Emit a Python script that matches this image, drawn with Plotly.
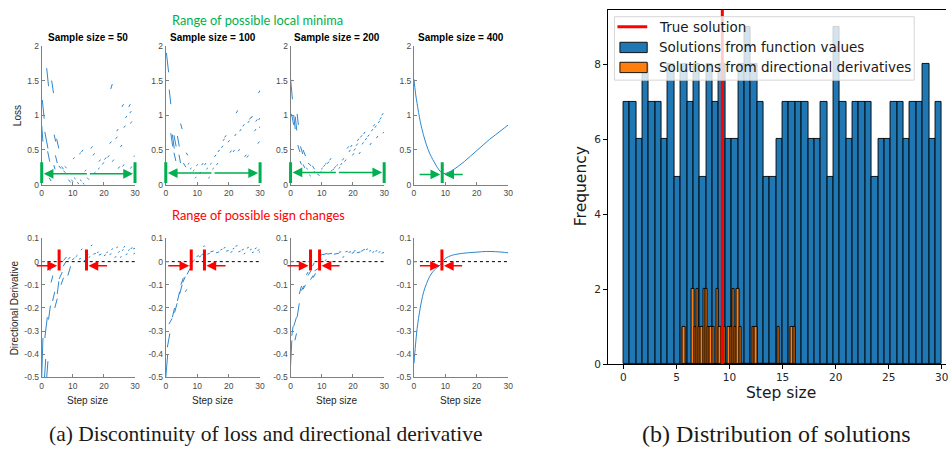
import plotly.graph_objects as go

# ======================= DATA : panel (a) =======================
SAMPLE_SIZES = [50, 100, 200, 400]
STEP_TICKS = [0, 10, 20, 30]
LOSS_TICKS = [0, 0.5, 1, 1.5, 2]
LOSS_TICKTEXT = ["0", "0.5", "1", "1.5", "2"]
DERIV_TICKS = [0.1, 0, -0.1, -0.2, -0.3, -0.4, -0.5]
DERIV_TICKTEXT = ["0.1", "0", "-0.1", "-0.2", "-0.3", "-0.4", "-0.5"]

# loss curves: discontinuous pieces (x0, y0, x1, y1)
LOSS_N50 = [
    (0.0, 0.85, 0.4, 0.62), (0.2, 1.22, 0.8, 0.95), (1.6, 1.68, 2.2, 1.42),
    (1.0, 0.76, 2.0, 0.52), (3.2, 1.50, 3.8, 1.32), (1.9, 0.48, 2.6, 0.33),
    (2.4, 0.10, 3.0, 0.05), (4.0, 0.72, 4.5, 0.62), (4.8, 0.66, 5.5, 0.52),
    (4.4, 0.42, 5.0, 0.31), (3.9, 0.28, 4.3, 0.22), (5.5, 0.27, 6.2, 0.23),
    (6.4, 0.26, 7.0, 0.22), (7.4, 0.26, 8.0, 0.24), (7.0, 0.20, 7.6, 0.17),
    (8.6, 0.07, 9.3, 0.03), (9.5, 0.07, 10.1, 0.04), (10.4, 0.10, 10.9, 0.08),
    (11.4, 0.03, 12.0, 0.01), (12.3, 0.07, 12.8, 0.05), (13.2, 0.02, 13.8, 0.00),
    (14.6, 0.10, 15.2, 0.07), (10.1, 0.37, 10.6, 0.39), (12.1, 0.44, 12.6, 0.46),
    (12.8, 0.47, 13.3, 0.50), (13.8, 0.19, 14.3, 0.21), (15.8, 0.52, 16.3, 0.55),
    (16.5, 0.42, 17.0, 0.45), (16.8, 0.16, 17.3, 0.18), (18.1, 0.22, 18.6, 0.24),
    (18.4, 0.33, 18.9, 0.36), (19.5, 0.29, 20.0, 0.32), (20.2, 0.36, 20.7, 0.39),
    (21.2, 0.39, 21.7, 0.42), (22.2, 1.38, 22.7, 1.45), (21.9, 0.59, 22.4, 0.62),
    (22.7, 0.33, 23.2, 0.36), (23.8, 0.66, 24.3, 0.69), (24.1, 0.77, 24.6, 0.80),
    (24.6, 0.23, 25.1, 0.26), (25.3, 0.54, 25.8, 0.57), (25.8, 1.12, 26.3, 1.16),
    (26.4, 0.82, 26.9, 0.85), (26.9, 0.96, 27.4, 0.99), (26.0, 0.26, 26.5, 0.29),
    (28.0, 1.12, 28.5, 1.16), (28.3, 1.03, 28.8, 1.06), (28.5, 0.88, 29.0, 0.91),
    (28.5, 0.23, 29.0, 0.26), (29.6, 0.40, 30.0, 0.42),
]
LOSS_N100 = [
    (0.2, 1.90, 0.9, 1.62), (1.1, 1.37, 1.6, 1.16), (1.6, 0.74, 2.2, 0.55),
    (2.1, 0.72, 2.7, 0.52), (2.6, 0.71, 3.3, 0.55), (3.7, 0.70, 4.3, 0.55),
    (2.6, 0.46, 3.2, 0.34), (4.7, 0.88, 5.2, 0.80), (4.2, 0.43, 4.7, 0.31),
    (5.6, 0.31, 6.4, 0.25), (6.5, 0.46, 7.0, 0.42), (7.0, 0.29, 7.5, 0.31),
    (7.7, 0.22, 8.2, 0.24), (8.6, 0.19, 9.1, 0.21), (9.3, 0.09, 9.7, 0.11),
    (9.7, 0.27, 10.2, 0.29), (10.7, 0.16, 11.2, 0.18), (11.4, 0.28, 11.9, 0.31),
    (12.3, 0.28, 12.8, 0.31), (12.9, 0.22, 13.4, 0.24), (13.5, 0.09, 14.0, 0.11),
    (14.1, 0.29, 14.6, 0.31), (14.8, 0.22, 15.3, 0.24), (15.5, 0.40, 16.0, 0.43),
    (16.1, 0.28, 16.6, 0.31), (16.6, 0.47, 17.1, 0.50), (17.7, 0.53, 18.2, 0.56),
    (18.2, 0.63, 18.7, 0.66), (18.7, 0.68, 19.2, 0.71), (19.8, 0.61, 20.3, 0.64),
    (20.4, 0.46, 20.9, 0.49), (21.4, 0.47, 21.9, 0.50), (21.9, 0.70, 22.4, 0.73),
    (22.4, 1.03, 22.9, 1.07), (23.0, 0.48, 23.5, 0.51), (23.5, 0.77, 24.0, 0.80),
    (24.5, 0.84, 25.0, 0.87), (25.1, 0.40, 25.6, 0.43), (25.8, 0.39, 26.3, 0.42),
    (26.1, 0.89, 26.6, 0.92), (26.6, 0.94, 27.1, 0.97), (27.1, 0.96, 27.6, 0.99),
    (28.2, 0.77, 28.7, 0.80), (28.6, 0.91, 29.1, 0.94), (29.3, 0.59, 29.8, 0.62),
    (29.5, 0.93, 30.0, 0.96), (29.5, 1.32, 30.0, 1.36), (29.8, 0.82, 30.0, 0.84),
]
LOSS_N200 = [
    (0.0, 1.53, 0.6, 1.23), (0.3, 1.02, 1.0, 0.86), (1.0, 1.00, 1.5, 0.80),
    (1.5, 0.98, 2.0, 0.78), (2.1, 1.02, 2.5, 0.86), (2.3, 0.57, 3.0, 0.47),
    (3.2, 0.55, 3.9, 0.44), (4.0, 0.50, 4.8, 0.41), (3.0, 0.34, 3.5, 0.29),
    (4.0, 0.29, 4.6, 0.24), (5.0, 0.24, 5.5, 0.22), (5.6, 0.31, 6.6, 0.27),
    (6.0, 0.14, 6.5, 0.12), (7.0, 0.27, 7.7, 0.22), (7.6, 0.19, 8.1, 0.17),
    (8.6, 0.15, 9.3, 0.13), (9.4, 0.17, 9.9, 0.19), (9.8, 0.22, 10.3, 0.24),
    (10.5, 0.26, 11.0, 0.28), (11.0, 0.29, 11.5, 0.31), (11.8, 0.30, 12.3, 0.33),
    (12.5, 0.35, 13.0, 0.38), (12.9, 0.19, 13.4, 0.21), (13.5, 0.21, 14.0, 0.23),
    (14.0, 0.24, 14.5, 0.26), (14.7, 0.27, 15.2, 0.29), (15.4, 0.23, 15.9, 0.25),
    (16.0, 0.28, 16.5, 0.31), (16.6, 0.35, 17.1, 0.38), (17.3, 0.33, 17.8, 0.36),
    (18.1, 0.52, 18.6, 0.55), (18.7, 0.47, 19.2, 0.50), (19.2, 0.54, 19.7, 0.57),
    (19.8, 0.42, 20.3, 0.45), (20.3, 0.49, 20.8, 0.52), (21.0, 0.56, 21.5, 0.59),
    (21.4, 0.63, 21.9, 0.66), (21.9, 0.44, 22.4, 0.47), (22.4, 0.68, 22.9, 0.71),
    (22.9, 0.58, 23.4, 0.61), (23.4, 0.73, 23.9, 0.76), (23.9, 0.64, 24.4, 0.67),
    (24.7, 0.69, 25.2, 0.72), (25.4, 0.57, 25.9, 0.60), (25.9, 0.77, 26.4, 0.80),
    (26.5, 0.84, 27.0, 0.87), (27.0, 0.82, 27.5, 0.85), (27.5, 0.67, 28.0, 0.70),
    (28.1, 0.89, 28.6, 0.92), (28.6, 0.94, 29.1, 0.97), (29.2, 1.00, 29.7, 1.03),
    (29.6, 0.74, 30.0, 0.76),
]
LOSS_N400_X = [0, 0.5, 1, 2, 3, 4, 5, 6, 7, 8, 9, 10, 12, 14, 16, 18, 20, 22, 24, 26, 28, 30]
LOSS_N400_Y = [1.52, 1.32, 1.17, 0.91, 0.72, 0.57, 0.45, 0.36, 0.28, 0.21, 0.165, 0.16,
               0.20, 0.26, 0.33, 0.41, 0.49, 0.57, 0.65, 0.72, 0.79, 0.86]

# directional derivative curves: discontinuous pieces (x0, y0, x1, y1)
DERIV_N50 = [
    (0.0, -0.50, 0.4, -0.33), (0.9, -0.50, 1.3, -0.42), (1.6, -0.50, 2.0, -0.43),
    (1.0, -0.33, 1.8, -0.24), (2.2, -0.25, 2.8, -0.19), (2.6, -0.04, 3.1, -0.02),
    (3.0, -0.09, 3.6, -0.06), (3.5, -0.17, 4.2, -0.13), (4.2, -0.20, 5.0, -0.16),
    (5.0, -0.14, 5.5, -0.085), (5.6, -0.075, 6.6, -0.045), (6.2, -0.10, 7.0, -0.07),
    (6.9, -0.02, 7.8, 0.0), (8.4, -0.06, 9.3, -0.02), (7.0, 0.005, 8.0, 0.02),
    (8.5, 0.01, 9.2, 0.02), (9.8, 0.008, 10.5, 0.015), (10.9, 0.02, 11.5, 0.028),
    (12.0, 0.01, 12.6, 0.015), (12.6, 0.05, 13.1, 0.055), (13.5, 0.002, 14.0, 0.008),
    (14.5, 0.025, 15.0, 0.03), (15.1, 0.018, 15.6, 0.022), (15.8, 0.068, 16.3, 0.072),
    (16.6, 0.032, 17.4, 0.036), (17.8, 0.038, 18.3, 0.042), (18.4, 0.028, 19.2, 0.033),
    (20.0, 0.025, 20.6, 0.03), (20.8, 0.038, 21.3, 0.042), (21.8, 0.03, 22.4, 0.034),
    (22.4, 0.052, 22.9, 0.056), (23.4, 0.018, 24.0, 0.022), (24.0, 0.06, 24.5, 0.064),
    (24.6, 0.04, 25.1, 0.044), (25.2, 0.018, 25.7, 0.022), (25.8, 0.048, 26.3, 0.052),
    (26.3, 0.062, 26.8, 0.066), (27.0, 0.03, 27.6, 0.034), (27.8, 0.048, 28.3, 0.052),
    (28.6, 0.056, 29.2, 0.06), (29.4, 0.055, 30.0, 0.058), (29.5, 0.033, 30.0, 0.037),
]
DERIV_N100 = [
    (0.0, -0.50, 0.6, -0.40), (0.5, -0.37, 1.3, -0.31), (1.0, -0.27, 2.0, -0.245),
    (2.1, -0.24, 2.8, -0.20), (2.8, -0.22, 3.6, -0.18), (3.7, -0.17, 4.4, -0.13),
    (4.4, -0.14, 5.2, -0.10), (4.8, -0.10, 5.6, -0.07), (6.2, -0.13, 6.7, -0.12),
    (5.4, -0.09, 6.2, -0.065), (6.8, -0.055, 7.7, -0.03), (7.6, -0.02, 8.4, 0.0),
    (8.6, 0.0, 9.2, 0.008), (9.8, 0.022, 10.5, 0.026), (10.6, 0.02, 11.2, 0.025),
    (11.3, 0.028, 11.8, 0.033), (11.9, 0.065, 12.4, 0.068), (12.2, 0.012, 12.8, 0.016),
    (13.2, 0.032, 14.0, 0.036), (14.2, 0.042, 15.2, 0.046), (16.0, 0.038, 17.0, 0.042),
    (17.4, 0.05, 18.0, 0.054), (18.4, 0.058, 19.0, 0.062), (19.2, 0.045, 20.0, 0.048),
    (20.6, 0.04, 21.2, 0.044), (21.3, 0.055, 21.8, 0.058), (22.2, 0.066, 22.8, 0.07),
    (23.1, 0.042, 23.8, 0.046), (24.2, 0.05, 24.8, 0.054), (24.8, 0.033, 25.3, 0.037),
    (25.8, 0.058, 26.4, 0.062), (26.8, 0.05, 27.3, 0.054), (27.4, 0.038, 28.0, 0.042),
    (28.3, 0.055, 28.9, 0.06), (29.2, 0.048, 29.8, 0.052), (29.6, 0.04, 30.0, 0.043),
]
DERIV_N200 = [
    (0.0, -0.45, 0.4, -0.34), (0.4, -0.32, 0.8, -0.28), (1.0, -0.28, 1.9, -0.24),
    (1.4, -0.34, 1.9, -0.31), (2.1, -0.24, 2.8, -0.18), (2.8, -0.14, 3.5, -0.105),
    (3.5, -0.125, 4.2, -0.105), (4.0, -0.12, 4.8, -0.10), (5.1, -0.057, 5.6, -0.045),
    (5.6, -0.06, 6.5, -0.04), (6.4, -0.078, 7.2, -0.06), (7.2, -0.07, 8.0, -0.05),
    (7.7, -0.04, 8.8, -0.03), (7.0, -0.02, 7.6, -0.005), (9.1, 0.0, 9.9, 0.012),
    (9.3, 0.025, 10.4, 0.032), (10.4, 0.03, 11.8, 0.036), (11.0, 0.005, 11.5, 0.008),
    (11.8, 0.032, 13.3, 0.036), (13.9, 0.032, 15.5, 0.036), (15.5, 0.04, 16.2, 0.043),
    (16.6, 0.018, 17.2, 0.022), (17.6, 0.042, 18.3, 0.045), (18.6, 0.04, 19.4, 0.043),
    (19.6, 0.036, 20.4, 0.04), (20.2, 0.045, 20.8, 0.048), (21.2, 0.038, 22.4, 0.042),
    (22.6, 0.045, 23.2, 0.048), (23.2, 0.05, 23.8, 0.053), (24.2, 0.052, 24.8, 0.055),
    (25.2, 0.045, 25.8, 0.048), (26.2, 0.04, 26.8, 0.043), (27.2, 0.045, 27.8, 0.048),
    (28.2, 0.04, 28.8, 0.043), (29.2, 0.036, 30.0, 0.04),
]
DERIV_N400_X = [0, 0.5, 1, 2, 3, 4, 5, 6, 7, 8, 9, 10, 12, 14, 17, 20, 23, 26, 28, 30]
DERIV_N400_Y = [-0.44, -0.36, -0.29, -0.20, -0.135, -0.095, -0.064, -0.044, -0.03, -0.019,
                -0.003, 0.014, 0.027, 0.033, 0.038, 0.041, 0.044, 0.043, 0.041, 0.038]

# ranges of possible local minima (green): left bound, right bound, arrow level
GREEN_LO = [0, 0, 0, 9.0]
GREEN_HI = [30, 30, 30, 9.0]
GREEN_LEVEL = [0.155, 0.165, 0.175, 0.145]
GREEN_P4_TAILS = (1.3, 16.0)
GREEN_BAR_TOP = 0.32

# ranges of possible sign changes (red): bounds and arrow tails
RED_LO = [5.6, 8.1, 6.4, 8.9]
RED_HI = [14.4, 12.3, 9.3, 8.9]
RED_TAIL_L = [-2.1, 0.3, -1.5, 1.4]
RED_TAIL_R = [21.5, 19.5, 16.2, 15.8]
RED_LEVEL = -0.018
RED_BAR = (-0.045, 0.052)

# ======================= DATA : panel (b) =======================
FV_BIN_START = 0.0
FV_BIN_WIDTH = 0.6
FV_COUNTS = [7, 7, 6, 8, 7, 7, 6, 8, 5, 8,
             7, 8, 5, 8, 7, 8, 6, 6, 8, 9,
             8, 7, 5, 5, 6, 7, 7, 7, 7, 6,
             6, 7, 5, 9, 7, 6, 7, 7, 7, 5,
             6, 6, 7, 7, 6, 7, 7, 8, 6, 7]
DD_BIN_START = 5.61
DD_BIN_WIDTH = 0.212
DD_COUNTS = [1, 0, 0, 0, 2, 1, 2, 1, 1, 2,
             2, 1, 1, 1, 0, 2, 1, 1, 1, 0,
             1, 1, 2, 1, 2, 1, 0, 0, 0, 0,
             0, 1, 1, 0, 0, 0, 0, 0, 0, 0,
             0, 0, 1, 0, 0, 0, 0, 0, 1, 1]
TRUE_SOLUTION = 9.32
HIST_X_TICKS = [0, 5, 10, 15, 20, 25, 30]
HIST_Y_TICKS = [0, 2, 4, 6, 8]
LEGEND_LABELS = ["True solution", "Solutions from function values",
                 "Solutions from directional derivatives"]

# ======================= LAYOUT (pixels) =======================
W, H = 951, 452
COLS_PX = [(40, 134), (165, 260), (290.7, 385), (415, 510)]
TOP_PX = (42, 184)
BOT_PX = (239.3, 381.7)
HIST_XPX = (610, 951)
HIST_YPX = (5, 368)


def fx(p):
    return p / W


def fy(p):
    return 1 - p / H


BLUE = "#2f86cc"
GREEN = "#00b050"
RED = "#ff0000"
FV_COLOR = "#1f77b4"
DD_COLOR = "#ff7f0e"
MFONT = "Liberation Sans"
TICKFONT = dict(family=MFONT, size=8.5, color="#4a4a4a")

fig = go.Figure()


def seg_xy(segs):
    xs, ys = [], []
    for x0, y0, x1, y1 in segs:
        xs += [x0, x1, None]
        ys += [y0, y1, None]
    return xs, ys


loss_sets = [LOSS_N50, LOSS_N100, LOSS_N200]
deriv_sets = [DERIV_N50, DERIV_N100, DERIV_N200]

for i in range(4):
    xt, yt = f"x{i + 1}", f"y{i + 1}"
    xb, yb = f"x{i + 5}", f"y{i + 5}"
    if i < 3:
        lx, ly = seg_xy(loss_sets[i])
        dx, dy = seg_xy(deriv_sets[i])
        fig.add_trace(go.Scatter(x=lx, y=ly, mode="lines", line=dict(color=BLUE, width=1),
                                 xaxis=xt, yaxis=yt, hoverinfo="skip"))
        fig.add_trace(go.Scatter(x=dx, y=dy, mode="lines", line=dict(color=BLUE, width=1),
                                 xaxis=xb, yaxis=yb, hoverinfo="skip"))
    else:
        fig.add_trace(go.Scatter(x=LOSS_N400_X, y=LOSS_N400_Y, mode="lines",
                                 line=dict(color=BLUE, width=1, shape="spline"),
                                 xaxis=xt, yaxis=yt, hoverinfo="skip"))
        fig.add_trace(go.Scatter(x=DERIV_N400_X, y=DERIV_N400_Y, mode="lines",
                                 line=dict(color=BLUE, width=1, shape="spline"),
                                 xaxis=xb, yaxis=yb, hoverinfo="skip"))
    # dotted zero line
    fig.add_trace(go.Scatter(x=[STEP_TICKS[0], STEP_TICKS[-1]], y=[0, 0], mode="lines",
                             line=dict(color="black", width=1, dash="dot"),
                             xaxis=xb, yaxis=yb, hoverinfo="skip"))

# histogram
fv_x = [FV_BIN_START + (k + 0.5) * FV_BIN_WIDTH for k in range(len(FV_COUNTS))]
dd_x = [DD_BIN_START + (k + 0.5) * DD_BIN_WIDTH for k in range(len(DD_COUNTS))]
fig.add_trace(go.Bar(x=fv_x, y=FV_COUNTS, width=FV_BIN_WIDTH, xaxis="x9", yaxis="y9",
                     marker=dict(color=FV_COLOR, line=dict(color="black", width=0.9)),
                     name=LEGEND_LABELS[1], hoverinfo="skip"))
fig.add_trace(go.Bar(x=dd_x, y=DD_COUNTS, width=DD_BIN_WIDTH, xaxis="x9", yaxis="y9",
                     marker=dict(color=DD_COLOR, line=dict(color="black", width=0.9)),
                     name=LEGEND_LABELS[2], hoverinfo="skip"))
fig.add_trace(go.Scatter(x=[TRUE_SOLUTION, TRUE_SOLUTION], y=[0, 20], mode="lines",
                         line=dict(color=RED, width=3), xaxis="x9", yaxis="y9",
                         name=LEGEND_LABELS[0], hoverinfo="skip"))

layout = dict(
    width=W, height=H, margin=dict(l=0, r=0, t=0, b=0),
    paper_bgcolor="white", plot_bgcolor="white", barmode="overlay", bargap=0,
    showlegend=False,
)

for i in range(4):
    c0, c1 = COLS_PX[i]
    for row, (r0, r1) in ((0, TOP_PX), (1, BOT_PX)):
        k = i + 1 + 4 * row
        xa = dict(domain=[fx(c0), fx(c1)], range=[0, 30], tickvals=STEP_TICKS,
                  ticks="inside", ticklen=3, tickcolor="#808080", showline=True,
                  linecolor="#808080", linewidth=1, showgrid=False, zeroline=False,
                  tickfont=TICKFONT, anchor=f"y{k}", fixedrange=True)
        if row == 0:
            ya = dict(range=[0, 2], tickvals=LOSS_TICKS, ticktext=LOSS_TICKTEXT)
        else:
            ya = dict(range=[-0.5, 0.1], tickvals=DERIV_TICKS, ticktext=DERIV_TICKTEXT)
        ya.update(domain=[fy(r1), fy(r0)], ticks="inside", ticklen=3, tickcolor="#808080",
                  showline=True, linecolor="#808080", linewidth=1, showgrid=False,
                  zeroline=False, tickfont=TICKFONT, anchor=f"x{k}", fixedrange=True)
        layout[f"xaxis{k}"] = xa
        layout[f"yaxis{k}"] = ya

layout["xaxis9"] = dict(domain=[fx(HIST_XPX[0]), fx(HIST_XPX[1])], range=[-1.5, 30.4],
                        tickvals=HIST_X_TICKS, ticks="outside", ticklen=3.5, tickcolor="black",
                        showline=True, linecolor="black", linewidth=1, mirror=True,
                        showgrid=False, zeroline=False, anchor="y9",
                        tickfont=dict(family="DejaVu Sans", size=10.5, color="#262626"))
layout["yaxis9"] = dict(domain=[fy(HIST_YPX[1]), fy(HIST_YPX[0])], range=[0, 9.45],
                        tickvals=HIST_Y_TICKS, ticks="outside", ticklen=3.5, tickcolor="black",
                        showline=True, linecolor="black", linewidth=1,
                        showgrid=False, zeroline=False, anchor="x9",
                        tickfont=dict(family="DejaVu Sans", size=10.5, color="#262626"))
fig.update_layout(**layout)

ann = []
shapes = []


def text(x, y, s, size, color="black", family=MFONT, bold=False, angle=0, xanchor="center"):
    ann.append(dict(x=fx(x), y=fy(y), xref="paper", yref="paper", text=f"<b>{s}</b>" if bold else s,
                    showarrow=False, textangle=angle, xanchor=xanchor, yanchor="middle",
                    font=dict(family=family, size=size, color=color)))


def line(k, x0, y0, x1, y1, color, width, head=0, size=1.0, standoff=0):
    ann.append(dict(xref=f"x{k}", yref=f"y{k}", axref=f"x{k}", ayref=f"y{k}",
                    x=x1, y=y1, ax=x0, ay=y0, text="", showarrow=True,
                    arrowhead=head, arrowwidth=width, arrowcolor=color, arrowsize=size,
                    standoff=standoff, startstandoff=0))


# panel titles & labels
for i, n in enumerate(SAMPLE_SIZES):
    c0, c1 = COLS_PX[i]
    text((c0 + c1) / 2, 33, f"Sample size = {n}", 10, bold=True)
    text((c0 + c1) / 2, 405, "Step size", 10, color="#262626")
text(257.5, 15, "Range of possible local minima", 12.8, color=GREEN, family="Lato")
text(258.5, 215, "Range of possible sign changes", 12.8, color=RED, family="Lato")
text(15, 113, "Loss", 10, color="#262626", angle=-90)
text(13, 310, "Directional Derivative", 10, color="#262626", angle=-90)
text(785, 398, "Step size", 15.5, color="#1a1a1a", family="DejaVu Sans")
text(584, 186, "Frequency", 15.5, color="#1a1a1a", family="DejaVu Sans", angle=-90)
text(265, 440, "(a) Discontinuity of loss and directional derivative", 21.5,
     color="#1a1a1a", family="Liberation Serif")
text(780, 440, "(b) Distribution of solutions", 24, color="#1a1a1a", family="Liberation Serif")

# green ranges on loss panels
for i in range(4):
    k = i + 1
    lvl = GREEN_LEVEL[i]
    line(k, GREEN_LO[i], 0, GREEN_LO[i], GREEN_BAR_TOP, GREEN, 3)
    if i < 3:
        line(k, GREEN_HI[i], 0, GREEN_HI[i], GREEN_BAR_TOP, GREEN, 3)
        mid = (GREEN_LO[i] + GREEN_HI[i]) / 2
        line(k, mid, lvl, GREEN_LO[i], lvl, GREEN, 1.5, head=2, size=1.3, standoff=2)
        line(k, mid, lvl, GREEN_HI[i], lvl, GREEN, 1.5, head=2, size=1.3, standoff=2)
    else:
        line(k, GREEN_P4_TAILS[0], lvl, GREEN_LO[i], lvl, GREEN, 1.5, head=2, size=1.3, standoff=2)
        line(k, GREEN_P4_TAILS[1], lvl, GREEN_LO[i], lvl, GREEN, 1.5, head=2, size=1.3, standoff=2)

# red ranges on derivative panels
for i in range(4):
    k = i + 5
    line(k, RED_LO[i], RED_BAR[0], RED_LO[i], RED_BAR[1], RED, 3)
    if RED_HI[i] != RED_LO[i]:
        line(k, RED_HI[i], RED_BAR[0], RED_HI[i], RED_BAR[1], RED, 3)
    line(k, RED_TAIL_L[i], RED_LEVEL, RED_LO[i], RED_LEVEL, RED, 1.5, head=2, size=1.3, standoff=2)
    line(k, RED_TAIL_R[i], RED_LEVEL, RED_HI[i], RED_LEVEL, RED, 1.5, head=2, size=1.3, standoff=2)

# matplotlib-style legend box (drawn over the bars, semi-transparent)
LEG_BOX = (617, 12, 919, 77)
LEG_ROWS = [22.3, 43.5, 64]
shapes.append(dict(type="rect", xref="paper", yref="paper", x0=fx(LEG_BOX[0]), x1=fx(LEG_BOX[2]),
                   y0=fy(LEG_BOX[3]), y1=fy(LEG_BOX[1]), fillcolor="rgba(255,255,255,0.8)",
                   line=dict(color="#d6d6d6", width=1), layer="above"))
shapes.append(dict(type="line", xref="paper", yref="paper", x0=fx(620), x1=fx(650),
                   y0=fy(LEG_ROWS[0]), y1=fy(LEG_ROWS[0]), line=dict(color=RED, width=3),
                   layer="above"))
for r, col in ((1, FV_COLOR), (2, DD_COLOR)):
    shapes.append(dict(type="rect", xref="paper", yref="paper", x0=fx(622.5), x1=fx(650),
                       y0=fy(LEG_ROWS[r] + 5.3), y1=fy(LEG_ROWS[r] - 5.3), fillcolor=col,
                       line=dict(color="black", width=0.9), layer="above"))
for r, lab in enumerate(LEGEND_LABELS):
    text(660, LEG_ROWS[r], lab, 13.5, color="#1a1a1a", family="DejaVu Sans", xanchor="left")

fig.update_layout(annotations=ann, shapes=shapes)
fig.write_html("out.html")
